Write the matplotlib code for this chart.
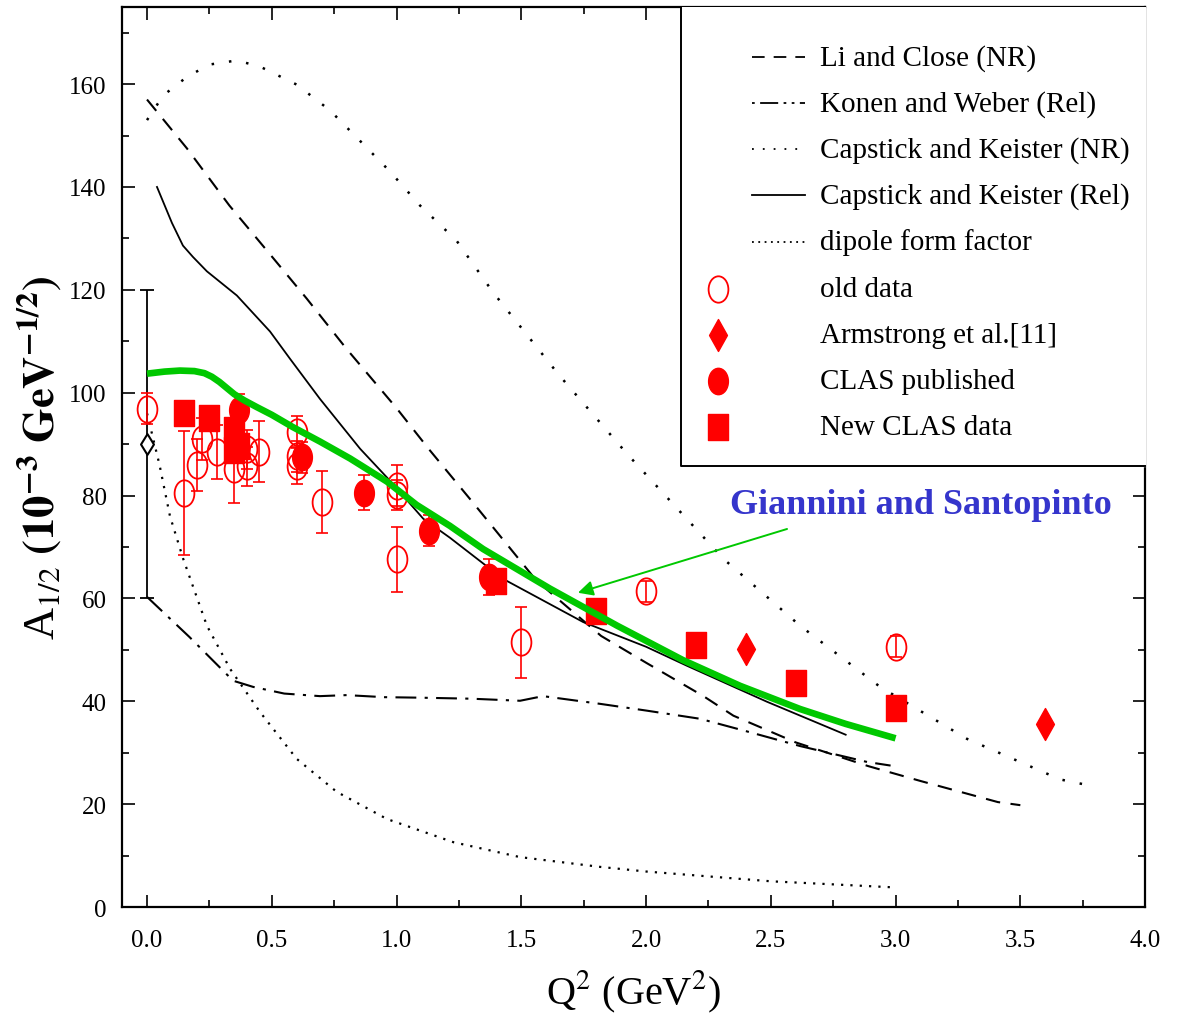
import numpy as np
import matplotlib
matplotlib.use("Agg")
import matplotlib.pyplot as plt
from matplotlib.path import Path
from matplotlib.lines import Line2D
from matplotlib.ticker import MultipleLocator

plt.rcParams['font.family'] = ['Liberation Serif', 'DejaVu Serif']
plt.rcParams['mathtext.fontset'] = 'stix'

# ---------------- data ----------------
# Li and Close (NR)
lc_x = [0.0, 0.16, 0.33, 0.5, 0.64, 0.8, 1.0, 1.13, 1.3, 1.56, 1.82, 2.0, 2.23, 2.35, 2.6, 2.89, 3.1, 3.41, 3.5]
lc_y = [157, 147.5, 136.4, 126.5, 118.3, 108.5, 97.0, 89.0, 79.0, 63.5, 52.7, 47.5, 41.0, 37.2, 32.0, 27.4, 24.5, 20.4, 19.8]
# Konen and Weber (Rel)
kw_x = [0.0, 0.17, 0.345, 0.425, 0.55, 0.693, 0.8, 0.95, 1.094, 1.3, 1.495, 1.587, 1.816, 2.0, 2.216, 2.4, 2.617, 2.886, 2.98]
kw_y = [60.3, 52.5, 44.0, 42.8, 41.5, 41.0, 41.2, 40.8, 40.7, 40.5, 40.1, 41.0, 39.5, 38.2, 36.6, 34.2, 31.3, 28.2, 27.5]
# Capstick and Keister (NR)
cn_x = [0.0, 0.065, 0.16, 0.25, 0.36, 0.453, 0.6, 0.733, 0.853, 0.974, 1.094, 1.24, 1.387, 1.65, 1.924, 2.31, 2.617, 2.938, 3.286, 3.66, 3.76]
cn_y = [153, 157.8, 161.4, 163.8, 164.6, 163.4, 159.9, 154.9, 149.0, 143.0, 136.4, 129.6, 119.5, 103.5, 88.1, 67.7, 54.7, 42.8, 32.7, 24.8, 23.8]
# Capstick and Keister (Rel)
cr_x = [0.04, 0.1, 0.144, 0.184, 0.24, 0.36, 0.493, 0.573, 0.693, 0.854, 0.962, 1.107, 1.214, 1.427, 1.748, 2.0, 2.164, 2.485, 2.8]
cr_y = [140, 133, 128.6, 126.4, 123.6, 118.9, 111.9, 106.6, 98.8, 89.1, 83.5, 75.5, 71.8, 63.8, 55.4, 50.6, 46.9, 39.9, 33.5]
# dipole form factor
dp_x = [0.0, 0.05, 0.092, 0.145, 0.24, 0.333, 0.453, 0.6, 0.76, 0.962, 1.228, 1.495, 1.816, 2.0, 2.5, 3.0]
dp_y = [96.0, 86.0, 76.0, 67.7, 54.7, 46.3, 37.9, 28.8, 22.4, 17.1, 12.6, 9.7, 7.8, 6.9, 5.0, 3.8]
# Giannini and Santopinto
gs_x = [0.0, 0.07, 0.132, 0.19, 0.23, 0.26, 0.29, 0.32, 0.35, 0.39, 0.44, 0.5, 0.585, 0.693, 0.814, 0.962, 1.08, 1.214, 1.347, 1.615, 1.884, 2.148, 2.377, 2.617, 2.8, 3.0]
gs_y = [103.7, 104.1, 104.3, 104.2, 103.8, 103.1, 102.1, 100.9, 99.7, 98.5, 97.2, 95.7, 93.3, 90.5, 87.2, 82.7, 78.2, 74.1, 69.6, 61.9, 54.7, 48.0, 43.0, 38.5, 35.6, 32.8]

# old data
old_x = [0.0, 0.15, 0.2, 0.22, 0.28, 0.35, 0.40, 0.40, 0.45, 0.6, 0.6, 0.6, 0.7, 1.0, 1.0, 1.0, 1.5, 2.0, 3.0]
old_y = [96.9, 80.5, 85.9, 91.0, 88.5, 85.2, 89.0, 85.7, 88.5, 92.4, 87.6, 85.8, 78.8, 81.9, 80.1, 67.6, 51.5, 61.4, 50.6]
old_e = [3.0, 12.0, 5.0, 4.0, 5.3, 6.7, 3.8, 3.8, 5.9, 3.0, 3.0, 3.5, 6.0, 4.0, 3.0, 6.3, 6.9, 2.0, 2.0]
# Armstrong et al.
arm_x = [2.4, 3.6]
arm_y = [50.2, 35.6]
# CLAS published
clp_x = [0.37, 0.62, 0.87, 1.13, 1.37]
clp_y = [96.7, 87.4, 80.5, 73.2, 64.2]
clp_e = [3.0, 3.0, 3.4, 3.0, 3.5]
# New CLAS data
new_x = [0.15, 0.25, 0.35, 0.35, 0.37, 1.4, 1.8, 2.2, 2.6, 3.0]
new_y = [96.1, 95.1, 92.8, 88.8, 89.7, 63.4, 57.6, 51.0, 43.6, 38.7]
# photon point (black diamond)
ph_x = [0.0]
ph_y = [90.0]
ph_e = [30.0]

# ---------------- markers ----------------
def scaled(path, sx, sy):
    return Path(path.vertices * np.array([sx, sy]), path.codes)

ell = scaled(Path.unit_circle(), 0.75, 1.0)
rect = Path([(-0.37, -0.5), (0.37, -0.5), (0.37, 0.5), (-0.37, 0.5), (-0.37, -0.5)],
            [Path.MOVETO, Path.LINETO, Path.LINETO, Path.LINETO, Path.CLOSEPOLY])
diam = Path([(0, 1), (0.56, 0), (0, -1), (-0.56, 0), (0, 1)],
            [Path.MOVETO, Path.LINETO, Path.LINETO, Path.LINETO, Path.CLOSEPOLY])
diam_b = Path([(0, 1), (0.62, 0), (0, -1), (-0.62, 0), (0, 1)],
              [Path.MOVETO, Path.LINETO, Path.LINETO, Path.LINETO, Path.CLOSEPOLY])

RED = '#ff0000'
GREEN = '#00c800'

fig = plt.figure(figsize=(11.77, 10.2), dpi=100)
ax = fig.add_axes([0.1037, 0.1098, 0.8692, 0.8824])

ax.plot(lc_x, lc_y, color='black', lw=1.5, linestyle=(0, (7, 5)))
ax.plot(kw_x, kw_y, color='black', lw=1.5, linestyle=(0, (10, 4, 1.5, 4)))
ax.plot(cn_x, cn_y, color='black', lw=1.8, linestyle=(0, (1, 6)))
ax.plot(cr_x, cr_y, color='black', lw=1.3)
ax.plot(dp_x, dp_y, color='black', lw=1.6, linestyle=(0, (1, 3.2)))

# photon point
ax.errorbar(ph_x, ph_y, yerr=ph_e, fmt='none', ecolor='black', elinewidth=1.3, capsize=5, capthick=1.3)
ax.plot(ph_x, ph_y, linestyle='none', marker=diam_b, ms=15, mfc='white', mec='black', mew=1.5)

# old data
ax.errorbar(old_x, old_y, yerr=old_e, fmt='none', ecolor=RED, elinewidth=1.2, capsize=4, capthick=1.2, zorder=3)
ax.plot(old_x, old_y, linestyle='none', marker=ell, ms=19, mfc='none', mec=RED, mew=1.3, zorder=3)
# CLAS published
ax.errorbar(clp_x, clp_y, yerr=clp_e, fmt='none', ecolor=RED, elinewidth=1.2, capsize=4, capthick=1.2, zorder=3)
ax.plot(clp_x, clp_y, linestyle='none', marker=ell, ms=19, mfc=RED, mec=RED, zorder=3)
# New CLAS
ax.plot(new_x, new_y, linestyle='none', marker=rect, ms=19, mfc=RED, mec=RED, zorder=3)
# Armstrong
ax.plot(arm_x, arm_y, linestyle='none', marker=diam, ms=23, mfc=RED, mec=RED, zorder=3)

# Giannini and Santopinto
ax.plot(gs_x, gs_y, color=GREEN, lw=4.8, solid_capstyle='butt', solid_joinstyle='round', zorder=5)
ax.annotate('', xy=(1.727, 61.1), xytext=(2.565, 73.5),
            arrowprops=dict(arrowstyle='-|>,head_length=0.9,head_width=0.45', color=GREEN, lw=1.4,
                            shrinkA=0, shrinkB=0), zorder=6)
ax.text(3.1, 78.3, 'Giannini and Santopinto', color='#3535cc', fontweight='bold', fontsize=26,
        ha='center', va='center', zorder=6)

# axes
ax.set_xlim(-0.1, 4.0)
ax.set_ylim(0, 175)
ax.xaxis.set_major_locator(MultipleLocator(0.5))
ax.xaxis.set_minor_locator(MultipleLocator(0.25))
ax.yaxis.set_major_locator(MultipleLocator(20))
ax.yaxis.set_minor_locator(MultipleLocator(10))
ax.set_xticks([0.0, 0.5, 1.0, 1.5, 2.0, 2.5, 3.0, 3.5, 4.0])
ax.set_xticklabels(['0.0', '0.5', '1.0', '1.5', '2.0', '2.5', '3.0', '3.5', '4.0'])
ax.tick_params(which='both', direction='in', top=True, right=True, labelsize=18, width=1.2)
ax.tick_params(which='major', length=9)
ax.tick_params(axis='x', which='major', pad=16)
ax.tick_params(axis='y', which='major', pad=11)
ax.tick_params(which='minor', length=5)
for s in ax.spines.values():
    s.set_linewidth(1.6)

ax.set_xlabel(r'Q$^2$ (GeV$^2$)', fontsize=29, labelpad=12)
ax.set_ylabel(r'A$_{1/2}$ $\mathbf{(10^{-3}\ GeV^{-1/2})}$', fontsize=32, labelpad=4)

# legend (drawn in axes coordinates)
lx0, lx1 = 0.5464, 1.0
ly0 = 0.49
ax.plot([lx0, lx0, lx1], [1.0, ly0, ly0], transform=ax.transAxes, color='black', lw=1.4, zorder=7, clip_on=False)
ax.fill_between([lx0, lx1], [ly0, ly0], [1.0, 1.0], transform=ax.transAxes, color='white', zorder=6.5)
rows = [0.944, 0.893, 0.842, 0.791, 0.739, 0.687, 0.636, 0.584, 0.533]
labels = ['Li and Close (NR)', 'Konen and Weber (Rel)', 'Capstick and Keister (NR)',
          'Capstick and Keister (Rel)', 'dipole form factor', 'old data',
          'Armstrong et al.[11]', 'CLAS published', 'New CLAS data']
styles = [(0, (7, 5)), (0, (1.5, 3, 10, 3, 1.5, 3)), (0, (1, 5)), '-', (0, (1, 2.5))]
for i in range(5):
    ax.add_line(Line2D([0.616, 0.668], [rows[i], rows[i]], transform=ax.transAxes, color='black',
                       lw=1.3, linestyle=styles[i], zorder=8))
mk = [dict(marker=ell, ms=19, mfc='none', mec=RED, mew=1.3),
      dict(marker=diam, ms=23, mfc=RED, mec=RED),
      dict(marker=ell, ms=19, mfc=RED, mec=RED),
      dict(marker=rect, ms=19, mfc=RED, mec=RED)]
for j, m in enumerate(mk):
    ax.add_line(Line2D([0.583], [rows[5 + j]], transform=ax.transAxes, linestyle='none', zorder=8, **m))
for r, lab in zip(rows, labels):
    ax.text(0.682, r, lab, transform=ax.transAxes, fontsize=21, va='center', ha='left', zorder=8)

fig.savefig('out.png', dpi=100)
